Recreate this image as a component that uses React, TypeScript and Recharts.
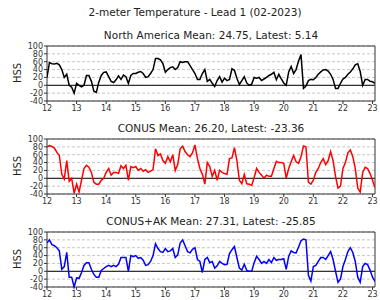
import { LineChart, Line, XAxis, YAxis, CartesianGrid, ReferenceLine, ReferenceArea } from "recharts";

// monthly HSS values, Jan 2012 .. Feb 2023
const startYear = 2012;
const monthCount = 134;
const months = Array.from({ length: monthCount }, (_, i) => startYear + i / 12);

const yearTicks = [2012, 2013, 2014, 2015, 2016, 2017, 2018, 2019, 2020, 2021, 2022, 2023];
const hssTicks = [-40, -20, 0, 20, 40, 60, 80, 100];

const northAmerica = [
  20, 58, 55, 54, 56, 52, 40, 20, 28, 0,
  -5, -20, 5, 0, -4, 0, 25, 25, 10, -15,
  -18, 8, 25, 33, 34, 22, 10, 7, 14, 24,
  15, 26, 22, 5, 25, 30, 30, 33, 35, 30,
  20, 22, 30, 40, 68, 68, 65, 55, 33, 40,
  45, 47, 40, 45, 60, 58, 60, 60, 50, 40,
  30, 15, 15, 30, 40, 10, 15, 5, -3, 12,
  22, 8, 18, 12, 15, 42, 38, 18, 2, 12,
  22, 6, 0, 3, 20, 18, 20, 12, 16, 20,
  25, 28, 33, 14, 28, 16, 6, 0, 34, 48,
  30, 40, 62, 78, -8, -2, 12, 15, 14, 20,
  28, 34, 39, 40, 36, 28, 15, -8, -8, 5,
  16, 20, 28, 34, 42, 52, 55, 35, 0, 15,
  15, 10, 9, 5.14,
];

const conus = [
  80, 83, 81, 77, 66, 58, 10, -2, 45, -8,
  0, -38, -15, -35, -5, 25, 33, 28, 15, -10,
  -15, -15, -5, 0, 15, 25, 8, 15, 15, 12,
  32, 25, 33, -5, 30, 27, 30, 20, 25, 18,
  22, 15, 18, 22, 75, 58, 62, 45, 38, 55,
  42, 60, 20, 35, 75, 82, 68, 60, 55, 65,
  85, 50, 25, 10, -15, 40, 30, 5, 20, -5,
  20, 15, 12, 10, 50, 52, 78, 45, -5, -14,
  10, -14, -15, -18, 2, 25, 15, 8, 0, 8,
  5, 5, 25, 43, 40, 40, 38, 0, 25, 42,
  58, 42, 38, 55, 82, 80, -10, -15, -5, 15,
  25, 40, 50, 35, 45, 68, 45, 5, -25, -20,
  25, 40, 65, 72, 55, 25, -25, -35, 15, 28,
  25, 12, -5, -23.36,
];

const conusAk = [
  72, 80, 68, 65, 60, 52, 5, 12, 48, -15,
  -15, -40, -17, -18, -3, 15, 22, 22, 5, -8,
  -15, -15, 2, 7, 12, 15, 12, 15, 12, 18,
  35, 35, 35, 0, 40, 37, 40, 33, 35, 28,
  15, 17, 25, 40, 70, 58, 50, 48, 58, 50,
  52, 58, 35, 42, 72, 80, 65, 50, 47, 56,
  60, 30, 25, -3, 30, 35, 22, 25, 8, 14,
  25, 20, 17, 18, 45, 55, 63, 35, 8, 3,
  18, 2, 0, 0, 22, 38, 30, 20, 25, 20,
  30, 22, 35, 28, 30, 30, 32, 5, 38, 52,
  48, 47, 62, 78, 82, 80, -10, -25, 12, 15,
  25, 35, 35, 30, 40, 50, 30, 0, -28, -20,
  12, 30, 50, 60, 48, 25, -15, -28, 12, 20,
  17, 3, -15, -25.85,
];

const font = "DejaVu Sans, sans-serif";
const tickStyle = { fontSize: 8, fill: "#333", fontFamily: font };

function Panel({ title, values, color, top }: { title: string; values: number[]; color: string; top: number }) {
  const data = months.map((t, i) => ({ t, v: values[i] }));
  const x0 = months[0];
  const x1 = months[months.length - 1];
  return (
    <>
      <div style={{ position: "absolute", top: top - 17, left: 47, width: 328, textAlign: "center", fontSize: 10.5, lineHeight: "13px", color: "#222" }}>
        {title}
      </div>
      <div style={{ position: "absolute", left: 17, top: top + 27, transform: "translate(-50%, -50%) rotate(-90deg)", fontSize: 10, color: "#222" }}>
        HSS
      </div>
      <div style={{ position: "absolute", top: top - 6, left: 0 }}>
        <LineChart width={380} height={76} data={data} margin={{ top: 6, right: 5, bottom: 0, left: 0 }}>
          <CartesianGrid vertical={false} strokeDasharray="3 2" stroke="#c8c8c8" />
          <XAxis
            dataKey="t"
            type="number"
            domain={[x0, x1]}
            ticks={yearTicks}
            tickFormatter={(v) => String(v - 2000)}
            height={15}
            axisLine={false}
            tickSize={3}
            tickMargin={1}
            tickLine={{ stroke: "#333" }}
            tick={tickStyle}
            allowDataOverflow
          />
          <YAxis
            domain={[-40, 100]}
            ticks={hssTicks}
            width={47}
            axisLine={false}
            tickSize={3}
            tickMargin={1}
            tickLine={{ stroke: "#333" }}
            tick={tickStyle}
            interval={0}
          />
          <ReferenceLine y={0} stroke="#333" strokeWidth={1.3} />
          <Line type="linear" dataKey="v" stroke={color} strokeWidth={1.5} dot={false} isAnimationActive={false} />
          <ReferenceArea x1={x0} x2={x1} y1={-40} y2={100} fill="none" stroke="#333" strokeWidth={1} />
        </LineChart>
      </div>
    </>
  );
}

export default function App() {
  return (
    <div style={{ position: "absolute", left: 0, top: 0, width: 380, height: 300, background: "#fff", fontFamily: font, overflow: "hidden" }}>
      <div style={{ position: "absolute", top: 6, left: 0, width: 390, textAlign: "center", fontSize: 10.5, lineHeight: "13px", color: "#222" }}>
        2-meter Temperature - Lead 1 (02-2023)
      </div>
      <Panel title="North America Mean: 24.75, Latest: 5.14" values={northAmerica} color="#000" top={46} />
      <Panel title="CONUS Mean: 26.20, Latest: -23.36" values={conus} color="#f00" top={139} />
      <Panel title="CONUS+AK Mean: 27.31, Latest: -25.85" values={conusAk} color="#00f" top={232} />
    </div>
  );
}
